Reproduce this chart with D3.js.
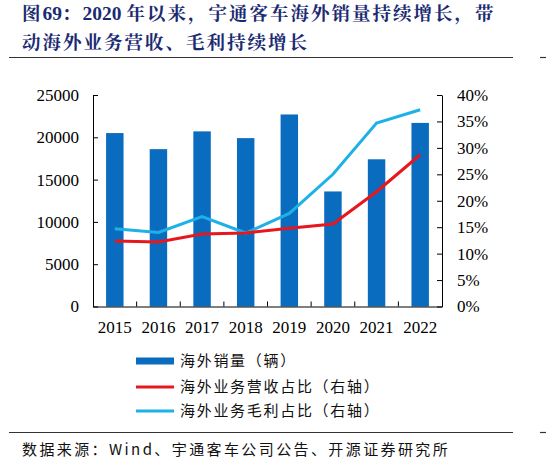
<!DOCTYPE html>
<html>
<head>
<meta charset="utf-8">
<script src="https://cdn.jsdelivr.net/npm/d3@7"></script>
<style>
  body { margin: 0; background: #fff; }
  svg { display: block; }
  tspan { white-space: pre; }
</style>
</head>
<body>
<svg id="chart" width="546" height="459"></svg>
<script>
// 数据
var years = ["2015", "2016", "2017", "2018", "2019", "2020", "2021", "2022"];
var salesOverseas = [20500, 18600, 20700, 19900, 22700, 13600, 17400, 21700];
var revenueShare = [12.4, 12.2, 13.7, 13.9, 14.8, 15.6, 21.7, 28.7];
var profitShare = [14.7, 14.0, 17.0, 13.9, 17.6, 25.0, 34.7, 37.2];
var leftTicks = [0, 5000, 10000, 15000, 20000, 25000];
var rightTicks = [0, 5, 10, 15, 20, 25, 30, 35, 40];
var legendNames = ["海外销量（辆）", "海外业务营收占比（右轴）", "海外业务毛利占比（右轴）"];

var titleLines = ["图69：2020 年以来，宇通客车海外销量持续增长，带", "动海外业务营收、毛利持续增长"];
var sourceText = "数据来源：Wind、宇通客车公司公告、开源证券研究所";

var colorBar = "#0a6cbf";
var colorRed = "#e8161d";
var colorBlue = "#1eb1e8";
var serif = "'Liberation Serif','Times New Roman',serif";
var cjk = "'Noto Sans CJK SC','Liberation Serif',serif";

var plot = {left: 93, right: 442, top: 95, bottom: 306.5};

var svg = d3.select("#chart");

// 标题 (数字用 Times 体, 汉字用宋体类)
titleLines.forEach(function(t, i) {
  var txt = svg.append("text")
    .attr("x", 22)
    .attr("y", 20 + i * 29)
    .attr("font-weight", "bold")
    .attr("fill", "#1b2b72");
  t.split(/([0-9 ]+)/).forEach(function(part) {
    if (!part) return;
    var isNum = /^[0-9 ]+$/.test(part);
    txt.append("tspan")
      .attr("font-family", isNum ? serif : "'Noto Serif CJK SC','Noto Sans CJK SC',serif")
      .attr("font-size", isNum ? 19.5 : 18.5)
      .attr("letter-spacing", isNum ? 0 : 2.0)
      .text(part);
  });
});

// 分隔线
function rule(y) {
  svg.append("line").attr("x1", 9).attr("x2", 513).attr("y1", y).attr("y2", y)
    .attr("stroke", "#333").attr("stroke-width", 1.2);
  svg.append("line").attr("x1", 540).attr("x2", 546).attr("y1", y).attr("y2", y)
    .attr("stroke", "#333").attr("stroke-width", 1.2);
}
rule(57.5);
rule(432.5);

// 比例尺
var x = d3.scaleBand()
  .domain(years)
  .range([plot.left, plot.right])
  .paddingInner(0.6)
  .paddingOuter(0.3);

var yLeft = d3.scaleLinear().domain([0, 25000]).range([plot.bottom, plot.top]);
var yRight = d3.scaleLinear().domain([0, 40]).range([plot.bottom, plot.top]);

// 柱
svg.append("g")
  .selectAll("rect")
  .data(salesOverseas)
  .enter()
  .append("rect")
  .attr("x", function(d, i) { return x(years[i]); })
  .attr("y", function(d) { return yLeft(d); })
  .attr("width", x.bandwidth())
  .attr("height", function(d) { return yLeft(0) - yLeft(d); })
  .attr("fill", colorBar);

// 折线
var line = d3.line()
  .x(function(d, i) { return x(years[i]) + x.bandwidth() / 2; })
  .y(function(d) { return yRight(d); });

svg.append("path")
  .datum(profitShare)
  .attr("d", line)
  .attr("fill", "none")
  .attr("stroke", colorBlue)
  .attr("stroke-width", 3);

svg.append("path")
  .datum(revenueShare)
  .attr("d", line)
  .attr("fill", "none")
  .attr("stroke", colorRed)
  .attr("stroke-width", 3);

// 坐标轴
var axisL = svg.append("g")
  .attr("transform", "translate(" + plot.left + ",0)")
  .call(d3.axisLeft(yLeft).tickValues(leftTicks).tickSize(-5).tickSizeOuter(0).tickPadding(14)
    .tickFormat(d3.format("d")));

var axisR = svg.append("g")
  .attr("transform", "translate(" + plot.right + ",0)")
  .call(d3.axisRight(yRight).tickValues(rightTicks).tickSize(-5).tickSizeOuter(0).tickPadding(15)
    .tickFormat(function(d) { return d + "%"; }));

var axisB = svg.append("g")
  .attr("transform", "translate(0," + plot.bottom + ")")
  .call(d3.axisBottom(x).tickSize(0).tickPadding(14));

// x轴分隔刻度
axisB.selectAll("line.sep")
  .data(years.slice(1))
  .enter()
  .append("line")
  .attr("class", "sep")
  .attr("x1", function(d) { return x(d) - x.step() * x.paddingInner() / 2; })
  .attr("x2", function(d) { return x(d) - x.step() * x.paddingInner() / 2; })
  .attr("y1", 0)
  .attr("y2", -5)
  .attr("stroke", "#000");

[axisL, axisR, axisB].forEach(function(g) {
  g.selectAll("text")
    .attr("font-family", serif)
    .attr("font-size", 17)
    .attr("fill", "#000");
  g.select(".domain").attr("stroke", "#000");
});

// 图例
var legend = svg.append("g");
var legendY = [361, 387, 411];
legend.append("rect")
  .attr("x", 136).attr("y", legendY[0] - 3.5)
  .attr("width", 38).attr("height", 7)
  .attr("fill", colorBar);
legend.append("line")
  .attr("x1", 136).attr("x2", 174).attr("y1", legendY[1]).attr("y2", legendY[1])
  .attr("stroke", colorRed).attr("stroke-width", 3);
legend.append("line")
  .attr("x1", 136).attr("x2", 174).attr("y1", legendY[2]).attr("y2", legendY[2])
  .attr("stroke", colorBlue).attr("stroke-width", 3);
legend.selectAll("text")
  .data(legendNames)
  .enter()
  .append("text")
  .attr("x", 180)
  .attr("y", function(d, i) { return legendY[i]; })
  .attr("dy", "0.36em")
  .attr("font-family", cjk)
  .attr("font-size", 15)
  .attr("letter-spacing", 1.7)
  .attr("fill", "#111")
  .text(function(d) { return d; });

// 数据来源
svg.append("text")
  .attr("x", 22)
  .attr("y", 450)
  .attr("dy", "0.36em")
  .attr("font-family", cjk)
  .attr("font-size", 15)
  .attr("letter-spacing", 2.4)
  .attr("fill", "#111")
  .text(sourceText);
</script>
</body>
</html>
